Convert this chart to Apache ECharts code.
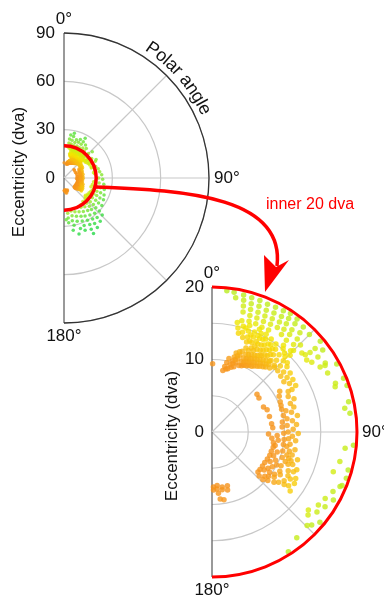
<!DOCTYPE html>
<html>
<head>
<meta charset="utf-8">
<script src="https://cdn.jsdelivr.net/npm/echarts@6/dist/echarts.min.js"></script>
<style>
  html, body { margin: 0; padding: 0; background: #fff; }
  #chart { width: 384px; height: 598px; }
</style>
</head>
<body>
<div id="chart"></div>
<script>
// every point is [eccentricity (dva), polar angle (deg)]
const rimStreaks = [
  [19.6, 6], [19.5, 9], [18.8, 10],
  [19.4, 13], [18.7, 13.5], [17.9, 14], [17.1, 14.5],
  [19.3, 16.5], [18.5, 17], [17.7, 17.5], [16.9, 18], [16.1, 18.5],
  [19.3, 20], [18.5, 20.5], [17.7, 21], [16.9, 21.5], [16.1, 22],
  [19.2, 23.5], [18.4, 24], [17.6, 24.5], [16.8, 25], [16.0, 25.5],
  [19.3, 27], [18.5, 27.5], [17.7, 28], [16.9, 28.5], [16.1, 29],
  [19.4, 30.5], [18.6, 31], [17.8, 31.5], [17.0, 32],
  [19.6, 33.5], [18.9, 34], [18.1, 34.5], [17.3, 35], [16.5, 35.5],
  [19.5, 37], [18.8, 37.5], [17.9, 38], [17.2, 38.5], [16.3, 39], [15.5, 39.5],
  [19.2, 41], [18.3, 41.5], [17.4, 42.5], [16.5, 43], [15.6, 44],
  [19.0, 45], [17.1, 45.5], [15.9, 45], [15.1, 45.5], [14.1, 47.4]
];
const yellowPatch = [
  [15.5, 13], [14.8, 14], [14.1, 15], [15.2, 16.5], [14.4, 17], [13.7, 18],
  [15.6, 19.5], [14.8, 19.8], [14.0, 20.5], [13.3, 21], [15.0, 23], [14.3, 23.5],
  [13.5, 24], [12.8, 25], [15.2, 26.5], [14.5, 27], [13.7, 27.5], [13.0, 28.5],
  [14.8, 30], [14.0, 31], [13.3, 32], [12.6, 33], [14.5, 34], [13.8, 35],
  [13.0, 36], [14.4, 37.5], [13.6, 38.5], [12.8, 39.5],
  [15.9, 15], [15.1, 18], [14.4, 21.8], [13.6, 22.5], [15.6, 24.8], [14.7, 25.5],
  [13.9, 26], [13.2, 26.5], [15.4, 29], [14.6, 28.7], [13.8, 29.5], [13.1, 30.5],
  [15.2, 32.5], [14.4, 32.5], [13.6, 33.5], [12.9, 34.5], [15.0, 36], [14.2, 36],
  [13.4, 37], [15.1, 40.5], [14.8, 42.5], [14.5, 44]
];
const yellowTail = [
  [14.1, 41], [13.3, 42], [12.6, 43], [13.9, 45], [13.1, 46], [12.4, 47],
  [13.7, 49], [12.9, 50], [12.2, 51], [13.5, 53], [12.8, 54], [12.1, 55],
  [13.3, 57], [12.6, 58], [13.2, 61], [12.5, 62]
];
const orangePatch = [
  [9.4, 0.5], [8.6, 10], [9.2, 11], [9.8, 12], [10.4, 13], [9.0, 14], [9.6, 15],
  [10.2, 16], [10.8, 16.5], [11.4, 17], [9.5, 18.5], [10.1, 19], [10.7, 19.5],
  [11.3, 20], [11.9, 20.5], [9.9, 22], [10.5, 22.5], [11.1, 23], [11.7, 23.5],
  [12.3, 24], [10.2, 25.5], [10.8, 26], [11.4, 26.5], [12.0, 27], [10.5, 29],
  [11.1, 29.5], [11.7, 30], [12.3, 30.5], [10.8, 32.5], [11.4, 33], [12.0, 33.5],
  [11.2, 36], [11.8, 36.5], [12.4, 37], [11.6, 39.5], [12.2, 40],
  [8.9, 12.5], [9.3, 16.5], [9.9, 17], [10.5, 17.8], [11.1, 18.5], [11.7, 19],
  [12.5, 22], [10.0, 24], [10.6, 24.5], [11.2, 25], [11.8, 25.3], [12.6, 27],
  [10.3, 27.5], [10.9, 28], [11.5, 28.2], [12.1, 29], [10.6, 31], [11.2, 31.3],
  [11.8, 31.8], [12.5, 32], [11.0, 34.5], [11.6, 35], [12.2, 35.3], [11.4, 38],
  [12.0, 38.5], [12.6, 39], [11.9, 42], [12.4, 44]
];
const lowerArcs = [
  [8.1, 50], [8.0, 54], [7.9, 64], [8.2, 68], [8.2, 75], [8.3, 82], [8.4, 86],
  [7.8, 92], [8.3, 96], [8.6, 100], [8.7, 104], [8.6, 108], [8.6, 112],
  [8.5, 116], [8.4, 120], [8.4, 124], [8.4, 128], [8.4, 131],
  [9.0, 93], [9.2, 97], [8.9, 102], [9.4, 107], [9.1, 111], [9.0, 117],
  [9.2, 123], [8.9, 126], [9.9, 128], [10.4, 124], [10.8, 120], [10.6, 116],
  [10.9, 59], [10.3, 66], [10.1, 72], [10.1, 77], [9.8, 82], [9.7, 86],
  [9.9, 91], [10.0, 96], [10.0, 100], [10.1, 105], [10.3, 110], [9.6, 114],
  [10.0, 117], [9.6, 120], [9.7, 125], [9.5, 130], [9.6, 133],
  [11.6, 65], [11.5, 70], [11.3, 76], [11.2, 82], [11.2, 88], [11.1, 93],
  [10.9, 99], [11.0, 104], [11.2, 109], [11.4, 113], [11.8, 117], [12.1, 120],
  [11.1, 122], [10.6, 126],
  [11.9, 62], [12.2, 68], [11.8, 73], [12.0, 79], [11.7, 85], [11.9, 91],
  [11.6, 96], [11.7, 102],
  [12.4, 108], [12.8, 114], [13.2, 119], [13.4, 122], [12.9, 125], [13.5, 127], [12.3, 126],
  [10.5, 62], [10.2, 69], [10.6, 74], [10.5, 80], [10.4, 85], [10.5, 90],
  [10.6, 95], [10.5, 101], [10.8, 107], [10.9, 112], [11.5, 106], [11.6, 110],
  [12.0, 112], [12.5, 116], [12.6, 121], [12.0, 124], [11.5, 127], [11.0, 129],
  [10.2, 131], [8.9, 133]
];
const lowerLeft = [
  [7.6, 178.5], [7.4, 174.5], [7.7, 169.5], [7.7, 164], [7.9, 175], [8.1, 170],
  [8.3, 165], [8.0, 178.5], [8.5, 174], [9.3, 173], [9.5, 170]
];
const rimSparse = [
  [19.5, 50], [19.0, 53.5], [18.3, 51], [17.4, 51], [16.5, 48.7], [16.7, 50.4],
  [16.4, 52.8], [16.8, 55], [17.9, 54.7], [17.4, 59], [18.3, 58.6], [18.1, 59.5],
  [19.6, 61.4], [17.9, 63], [18.3, 68.5], [19.6, 67.8], [18.1, 69.8], [19.7, 71],
  [19.3, 77.5], [18.6, 79.9], [19.2, 82.3], [19.6, 95.3], [18.5, 97], [18.1, 103],
  [17.6, 108.1], [19.5, 105.6], [19.6, 109], [19.4, 112.4], [19.2, 113.1],
  [18.6, 116.2], [18.1, 120.4], [19.2, 119.3], [17.8, 124.5], [18.7, 123.5],
  [17.1, 129], [18.2, 127.3], [17.5, 130.8], [18.8, 133], [19.4, 129.9],
  [18.4, 134.5], [18.7, 141.3], [19.6, 147.5]
];
// only visible in the full-field plot
const beyond20 = [
  [22, 8], [24.5, 8], [27, 9], [21.5, 12], [24, 12], [26.5, 13], [28.5, 13],
  [21, 17], [23, 17], [25, 18], [21.5, 22], [24, 22], [26, 23], [21, 27],
  [23.5, 27], [25.5, 28], [28, 28], [22, 32], [24.5, 33], [21, 37], [23, 37],
  [21.5, 45], [24, 47], [21, 55], [23, 60], [22, 62], [21, 70], [22, 75],
  [22.5, 80], [23.5, 85], [21.5, 90], [24, 92], [22, 98], [25, 99], [21, 105],
  [23.5, 105], [26, 106], [22, 112], [24.5, 112], [27, 113], [21, 118], [23, 118],
  [25.5, 119], [28, 119], [21.5, 125], [24, 125], [26.5, 126], [29, 126],
  [22, 132], [24.5, 132], [27, 133], [30, 133], [33, 134], [21, 138], [23.5, 138],
  [26, 139], [29, 139], [32, 140], [35, 140], [22, 144], [25, 144], [28, 145],
  [31, 145], [34, 146], [37, 146], [21, 150], [24, 150], [27, 151], [30, 151],
  [33, 151], [36, 152], [39, 152], [23, 156], [26, 156], [29, 157], [32, 157],
  [35, 158], [22, 162], [25, 162], [28, 163], [33, 162], [36, 165], [21, 168],
  [24, 168], [27, 169], [30, 168], [33, 170], [22, 174], [25, 174], [28, 174], [26, 177]
];

const fullMax = 90;
const zoomMax = 20;
const angleMarks = [0, 90, 180];

const inner = [].concat(rimStreaks, yellowPatch, yellowTail, orangePatch, lowerArcs, lowerLeft, rimSparse);
const full = inner.concat(beyond20);

const FONT = '"Liberation Sans", Arial, Helvetica, sans-serif';
const R = 145;
const topC = [64, 178];
const botC = [212, 432];

const chart = echarts.init(document.getElementById('chart'));

function gridAngle(idx, showLine) {
  return {
    polarIndex: idx, type: 'value', min: 0, max: 180, interval: 45,
    startAngle: 90, endAngle: -90, clockwise: true,
    axisLine: { show: showLine, lineStyle: { color: '#333', width: 1.3 } },
    axisTick: { show: false },
    axisLabel: {
      margin: 5, fontSize: 17, color: '#111', fontFamily: FONT,
      formatter: v => angleMarks.indexOf(v) >= 0 ? v + '°' : ''
    },
    splitLine: { lineStyle: { color: ['#555', '#c8c8c8', '#c8c8c8', '#c8c8c8', '#555'], width: 1.2 } }
  };
}
function redArc(idx, w) {
  return {
    polarIndex: idx, type: 'value', min: 0, max: 180,
    startAngle: 90, endAngle: -90, clockwise: true, z: 10,
    axisLine: { lineStyle: { color: '#f00', width: w } },
    axisTick: { show: false }, axisLabel: { show: false }, splitLine: { show: false }
  };
}

// "Polar angle" laid out along the outer arc
const ctx = document.createElement('canvas').getContext('2d');
const arcFont = '18px ' + FONT;
ctx.font = arcFont;
const arcText = 'Polar angle';
const arcR = 156, arcMid = 49 * Math.PI / 180;
const totalW = ctx.measureText(arcText).width;
let acc = 0;
const arcChars = [];
for (const ch of arcText) {
  const w = ctx.measureText(ch).width;
  const phi = arcMid + (acc + w / 2 - totalW / 2) / arcR;
  acc += w;
  if (ch === ' ') continue;
  arcChars.push({
    type: 'text', x: topC[0] + arcR * Math.sin(phi), y: topC[1] - arcR * Math.cos(phi),
    rotation: -phi,
    style: { text: ch, font: arcFont, fill: '#111', align: 'center', verticalAlign: 'middle' }
  });
}

const option = {
  backgroundColor: '#fff',
  animation: false,
  polar: [
    { center: topC, radius: R },
    { center: topC, radius: R * zoomMax / fullMax },
    { center: botC, radius: R },
    { center: botC, radius: R }
  ],
  radiusAxis: [
    { polarIndex: 0, type: 'value', min: 0, max: fullMax, interval: 30,
      axisLine: { show: false }, axisTick: { show: false },
      axisLabel: { margin: 9, fontSize: 17, color: '#111', fontFamily: FONT },
      splitLine: { lineStyle: { color: '#c8c8c8', width: 1.2 } } },
    { polarIndex: 1, type: 'value', min: 0, max: 1, show: false },
    { polarIndex: 2, type: 'value', min: 0, max: zoomMax, interval: 5,
      axisLine: { show: false }, axisTick: { show: false },
      axisLabel: { margin: 8, fontSize: 17, color: '#111', fontFamily: FONT,
        formatter: v => v % 10 === 0 ? String(v) : '' },
      splitLine: { lineStyle: { color: '#c8c8c8', width: 1.2 } } },
    { polarIndex: 3, type: 'value', min: 0, max: 1, show: false }
  ],
  angleAxis: [gridAngle(0, true), redArc(1, 3.5), gridAngle(2, false), redArc(3, 3)],
  visualMap: [{
    show: false, type: 'continuous', seriesIndex: [0, 1], dimension: 0, min: 0, max: 40,
    inRange: { color: [
      '#f39018', '#f39018', '#f39018', '#f5911a', '#f7981b', '#f8c010', '#f5e400', '#d4ec12', '#b4ec22',
      '#90e82a', '#72e332', '#5ae037', '#48de3c', '#3adc40', '#2edb44', '#26d948', '#22d84a'
    ] }
  }],
  series: [
    { type: 'scatter', coordinateSystem: 'polar', polarIndex: 0, symbolSize: 3.5,
      data: full, z: 3 },
    { type: 'scatter', coordinateSystem: 'polar', polarIndex: 2, symbolSize: 5.5,
      data: inner, z: 3 }
  ],
  graphic: arcChars.concat([
    { type: 'text', x: 19, y: 172, rotation: Math.PI / 2,
      style: { text: 'Eccentricity (dva)', font: '17px ' + FONT, fill: '#111', align: 'center', verticalAlign: 'middle' } },
    { type: 'text', x: 172, y: 436, rotation: Math.PI / 2,
      style: { text: 'Eccentricity (dva)', font: '17px ' + FONT, fill: '#111', align: 'center', verticalAlign: 'middle' } },
    { type: 'text', x: 266, y: 205,
      style: { text: 'inner 20 dva', font: '16px ' + FONT, fill: '#f00', align: 'left', verticalAlign: 'middle' } },
    { type: 'bezierCurve', z: 20,
      shape: { x1: 94, y1: 187, cpx1: 190, cpy1: 190, cpx2: 285, cpy2: 198, x2: 277, y2: 266 },
      style: { stroke: '#f00', lineWidth: 3.5, fill: null } },
    { type: 'polygon', z: 20,
      shape: { points: [[265, 292], [264, 255], [276, 267], [289, 260]] },
      style: { fill: '#f00' } }
  ])
};

chart.setOption(option);
</script>
</body>
</html>
